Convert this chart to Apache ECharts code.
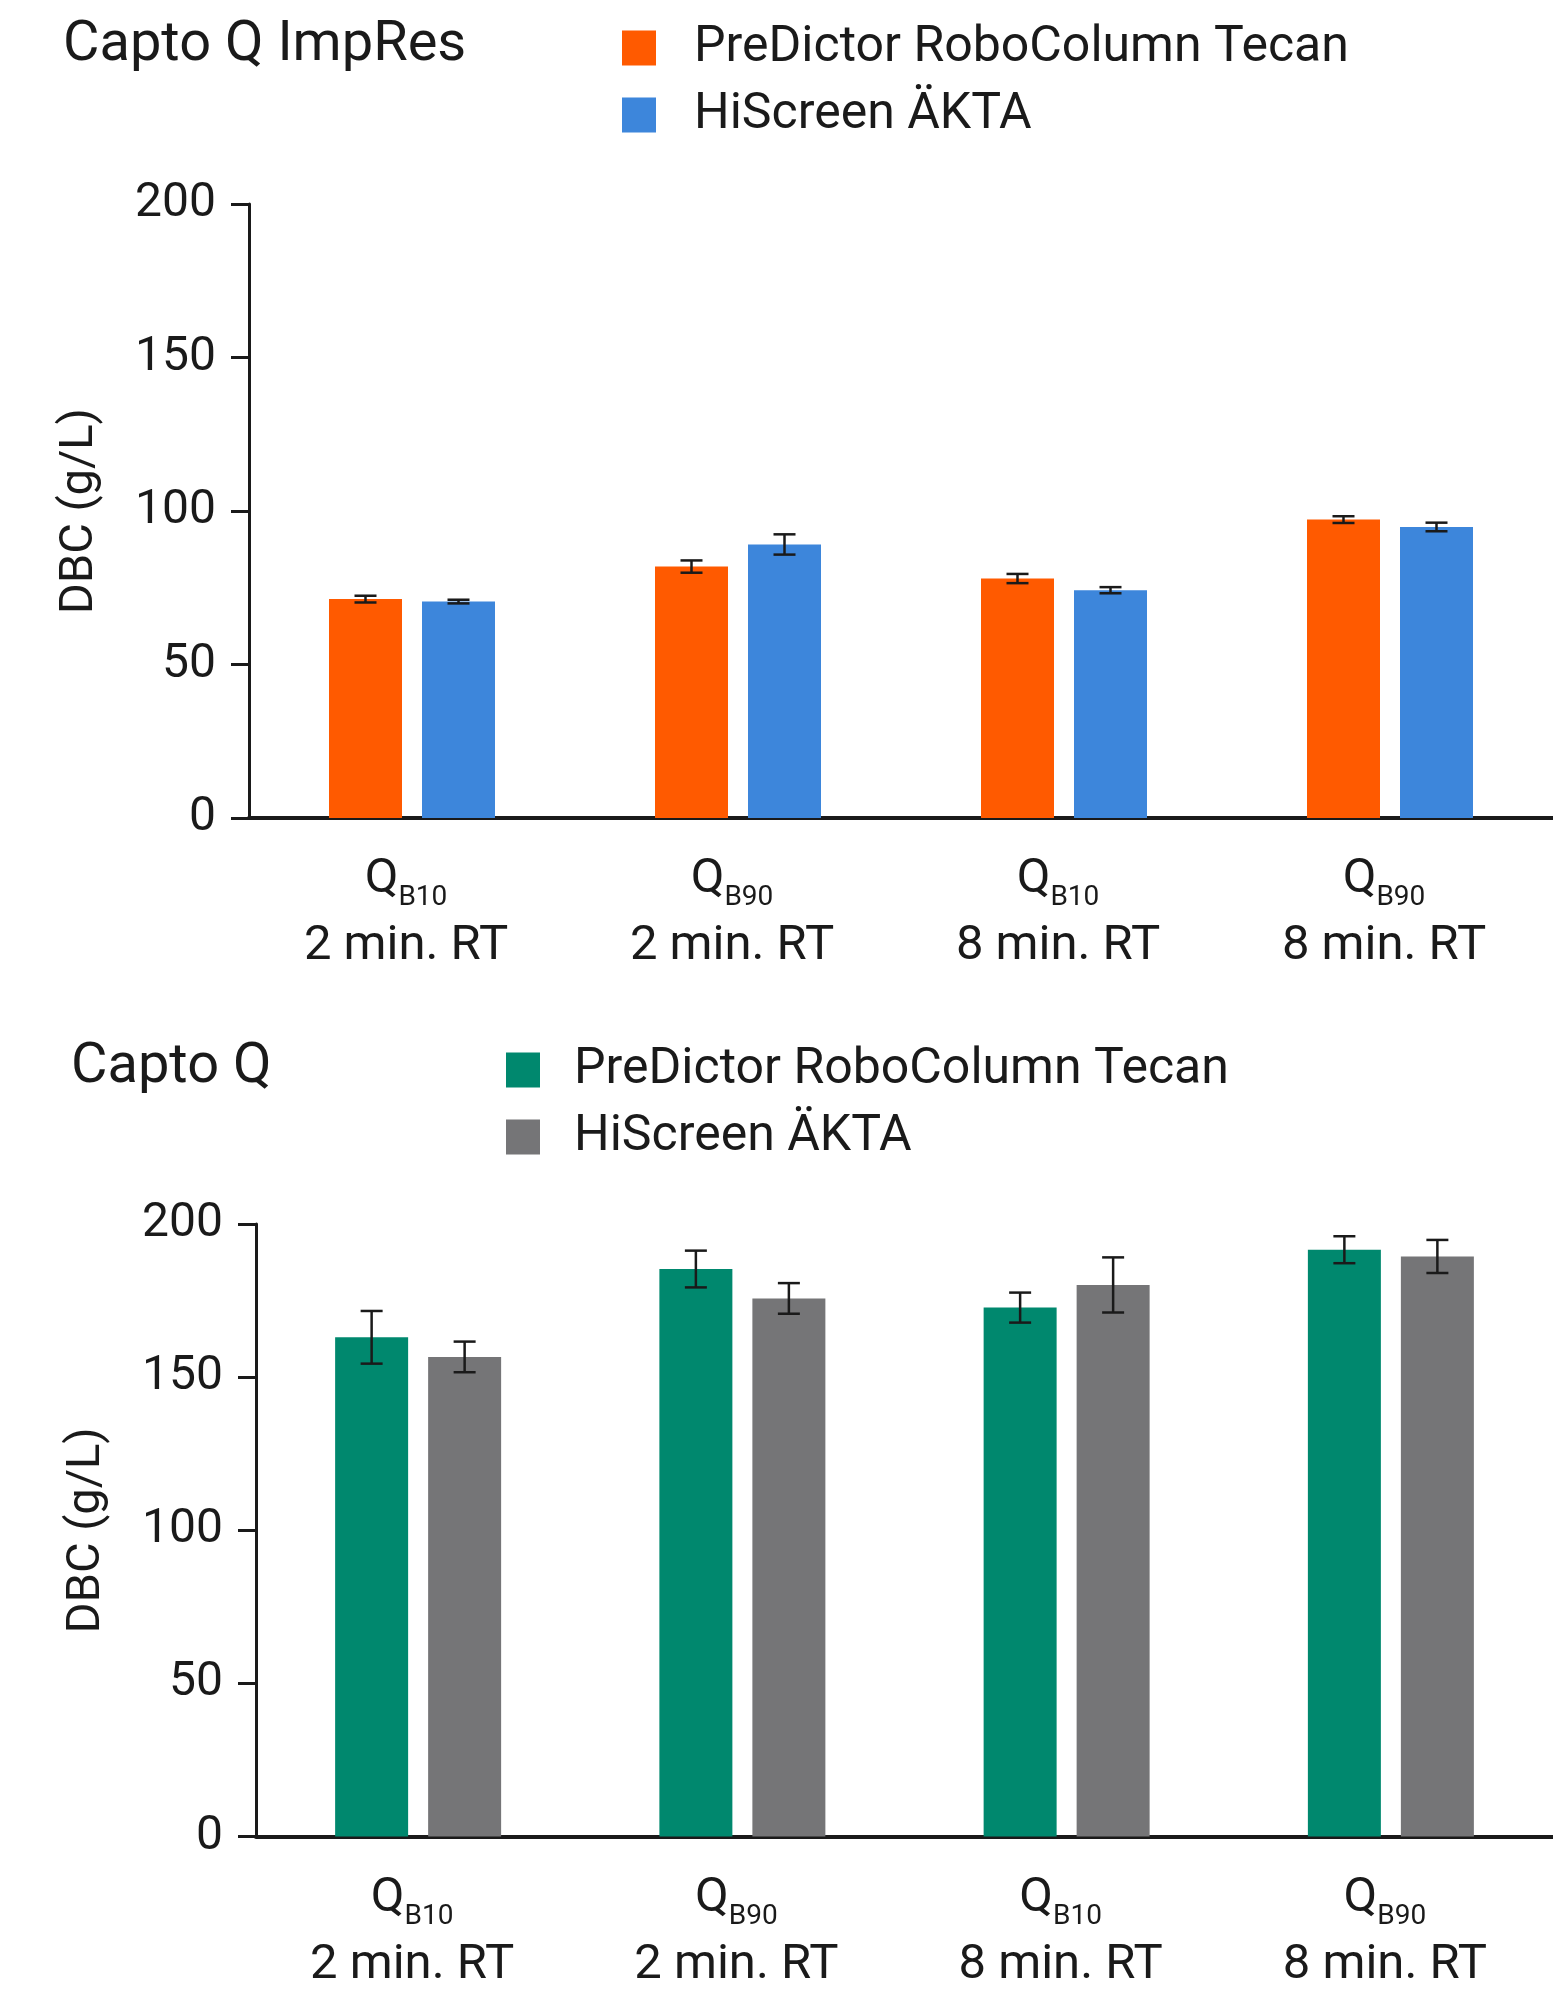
<!DOCTYPE html>
<html><head><meta charset="utf-8">
<script src="https://cdn.jsdelivr.net/npm/echarts@6/dist/echarts.min.js"></script>
<style>html,body{margin:0;padding:0;background:#fff}#c1,#c2{width:1553px;height:995px}</style>
</head><body><div id="c1"></div><div id="c2"></div>
<script>
// ---- data ----
const subscripts = ['B10', 'B90', 'B10', 'B90'];
const rtLabels = ['2 min. RT', '2 min. RT', '8 min. RT', '8 min. RT'];
const seriesNames = ['PreDictor RoboColumn Tecan', 'HiScreen ÄKTA'];
const yTickValues = [0, 50, 100, 150, 200];

const impresTecan = [71.3, 81.9, 78.0, 97.2];
const impresTecanErr = [1.1, 2.0, 1.5, 1.1];
const impresAkta = [70.5, 89.1, 74.2, 94.8];
const impresAktaErr = [0.6, 3.3, 1.0, 1.4];

const captoTecan = [163.0, 185.3, 172.7, 191.6];
const captoTecanErr = [8.6, 6.0, 4.9, 4.4];
const captoAkta = [156.6, 175.7, 180.1, 189.4];
const captoAktaErr = [5.0, 5.0, 9.0, 5.4];

// ---- style ----
const FONT = 'Roboto';
const TXT = '#1a1a1a';
const BAR_W = 73, BAR_GAP = 20;
const categories = subscripts.map((s, i) => s + '\n' + rtLabels[i]);

function errSeries(vals, errs, side) {
  return {
    type: 'custom', z: 10, silent: true,
    encode: { x: 0, y: [1, 2] },
    data: vals.map((v, i) => [i, v - errs[i], v + errs[i]]),
    renderItem(params, api) {
      const i = api.value(0);
      const lo = api.coord([i, api.value(1)]);
      const hi = api.coord([i, api.value(2)]);
      const x = lo[0] + side * (BAR_W + BAR_GAP) / 2;
      const cw = 11;
      const st = { stroke: TXT, lineWidth: 2.5 };
      return { type: 'group', children: [
        { type: 'line', shape: { x1: x, y1: lo[1], x2: x, y2: hi[1] }, style: st },
        { type: 'line', shape: { x1: x - cw, y1: lo[1], x2: x + cw, y2: lo[1] }, style: st },
        { type: 'line', shape: { x1: x - cw, y1: hi[1], x2: x + cw, y2: hi[1] }, style: st }
      ]};
    }
  };
}

function buildOption(cfg) {
  return {
    animation: false,
    textStyle: { fontFamily: FONT, color: TXT },
    title: { text: cfg.title, left: cfg.titleLeft, top: cfg.titleTop,
      textStyle: { fontFamily: FONT, fontSize: 56, fontWeight: 'normal', color: TXT } },
    legend: { orient: 'vertical', left: cfg.legendLeft, top: cfg.legendTop, icon: 'rect',
      itemWidth: 34, itemHeight: 35, itemGap: 17, data: seriesNames,
      textStyle: { fontFamily: FONT, fontSize: 50, color: TXT, padding: [0, 0, 0, cfg.legendTextGap] } },
    grid: { left: cfg.gridLeft, top: cfg.gridTop, height: cfg.gridHeight, right: 0 },
    xAxis: {
      type: 'category', data: categories,
      axisLine: { lineStyle: { color: TXT, width: 4 } },
      axisTick: { show: false },
      axisLabel: {
        margin: 30, interval: 0, padding: [0, 12, 0, 0],
        formatter: v => { const p = v.split('\n'); return '{q|Q}{s|' + p[0] + '}\n{l|' + p[1] + '}'; },
        rich: {
          q: { fontFamily: FONT, fontSize: 49, color: TXT, lineHeight: 64, verticalAlign: 'middle' },
          s: { fontFamily: FONT, fontSize: 28, color: TXT, lineHeight: 64, verticalAlign: 'bottom', padding: [0, 0, 0, 0] },
          l: { fontFamily: FONT, fontSize: 49, color: TXT, lineHeight: 70, verticalAlign: 'middle' }
        }
      }
    },
    yAxis: {
      type: 'value', min: yTickValues[0], max: yTickValues[yTickValues.length - 1], interval: 50,
      name: 'DBC (g/L)', nameLocation: 'middle', nameGap: 145,
      nameTextStyle: { fontFamily: FONT, fontSize: 47, color: TXT },
      axisLine: { show: true, lineStyle: { color: TXT, width: 3 } },
      axisTick: { show: true, length: 18, lineStyle: { color: TXT, width: 3 } },
      splitLine: { show: false },
      axisLabel: { margin: 33, fontFamily: FONT, fontSize: 48, color: TXT, padding: [0, 0, 16, 0] }
    },
    series: [
      { name: seriesNames[0], type: 'bar', data: cfg.a, barWidth: BAR_W,
        barGap: (BAR_GAP / BAR_W * 100) + '%', itemStyle: { color: cfg.colors[0] } },
      { name: seriesNames[1], type: 'bar', data: cfg.b, barWidth: BAR_W,
        itemStyle: { color: cfg.colors[1] } },
      errSeries(cfg.a, cfg.aErr, -1),
      errSeries(cfg.b, cfg.bErr, 1)
    ]
  };
}

const c1 = echarts.init(document.getElementById('c1'));
c1.setOption(buildOption({
  title: 'Capto Q ImpRes', titleLeft: 58, titleTop: 13,
  legendLeft: 617, legendTop: 18, legendTextGap: 33,
  gridLeft: 249, gridTop: 204, gridHeight: 614,
  a: impresTecan, aErr: impresTecanErr, b: impresAkta, bErr: impresAktaErr,
  colors: ['#FF5A00', '#3D86DB']
}));

const c2 = echarts.init(document.getElementById('c2'));
c2.setOption(buildOption({
  title: 'Capto Q', titleLeft: 66, titleTop: 40,
  legendLeft: 501, legendTop: 45, legendTextGap: 29,
  gridLeft: 256, gridTop: 229, gridHeight: 613,
  a: captoTecan, aErr: captoTecanErr, b: captoAkta, bErr: captoAktaErr,
  colors: ['#00886E', '#757577']
}));
</script></body></html>
